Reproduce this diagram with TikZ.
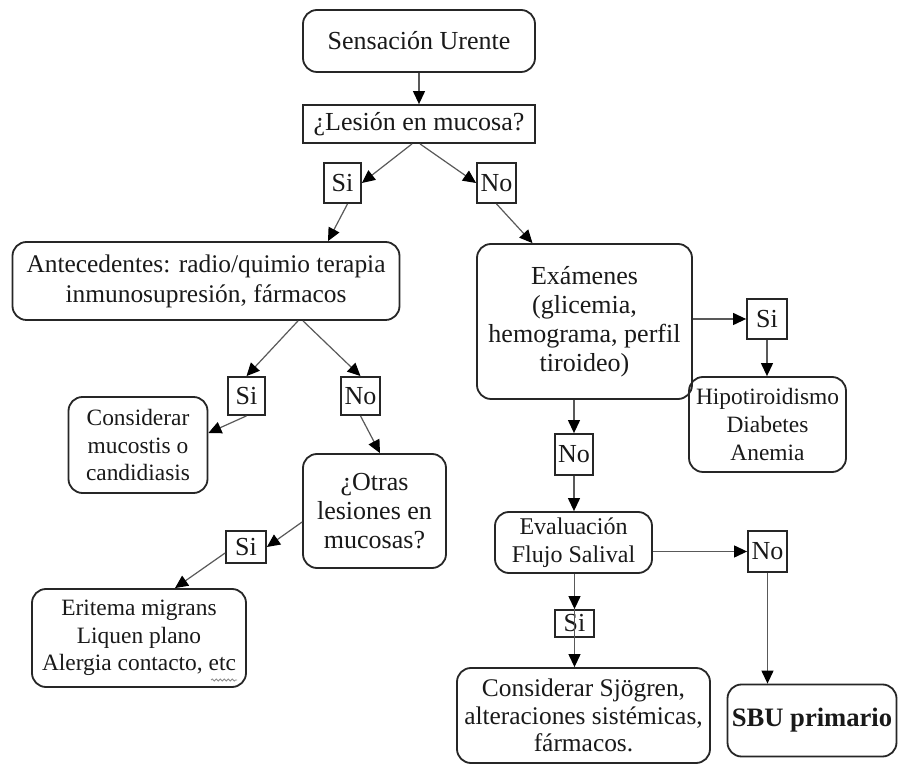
\documentclass[tikz,border=0pt]{standalone}
\usepackage{fontspec}
\setmainfont{Liberation Serif}
\usetikzlibrary{arrows.meta,calc,decorations.pathmorphing}
\begin{document}
\begin{tikzpicture}[x=0.5pt,y=-0.5pt,
  every node/.style={font=\fontsize{13}{14.5}\selectfont, text=black!90, inner sep=0pt, align=center},
  small/.style={font=\fontsize{11.7}{13.7}\selectfont},
  rbox/.style={draw=black!85, line width=0.9pt, rounded corners=7pt},
  sbox/.style={draw=black!85, line width=0.9pt},
  lbl/.style={draw=black!85, line width=0.9pt},
  arr/.style={draw=black!65, line width=0.6pt, -{Triangle[length=6.5pt,width=6pt,fill=black,color=black]}}]
\useasboundingbox (0,0) rectangle (901,764);
\fill[white] (0,0) rectangle (901,764);
% nodes
\node[rbox, minimum width=116pt, minimum height=31pt] (su) at (419,41) {Sensación Urente};
\node[sbox, minimum width=116pt, minimum height=19pt] (les) at (419,124) {¿Lesión en mucosa?};
\node[lbl, minimum width=18.5pt, minimum height=20pt] (si1) at (342.5,183) {Si};
\node[lbl, minimum width=19.5pt, minimum height=20pt] (no1) at (496.5,183) {No};
\node[rbox, minimum width=193.5pt, minimum height=39pt, font=\fontsize{12.7}{15}\selectfont] (ant) at (206,281) {Antecedentes: radio/quimio terapia\\inmunosupresión, fármacos};
\node[rbox, minimum width=107.5pt, minimum height=77.5pt] (exa) at (584.5,321.5) {Exámenes\\(glicemia,\\hemograma, perfil\\tiroideo)};
\node[lbl, minimum width=18.5pt, minimum height=19pt] (si2) at (246.5,396) {Si};
\node[lbl, minimum width=19.5pt, minimum height=19pt] (no2) at (360.5,396) {No};
\node[rbox, small, minimum width=69.5pt, minimum height=48pt] (cm) at (138,445) {Considerar\\mucostis o\\candidiasis};
\node[rbox, minimum width=71.5pt, minimum height=57pt] (otras) at (374.5,511) {¿Otras\\lesiones en\\mucosas?};
\node[lbl, minimum width=20pt, minimum height=16pt] (si3) at (246,547) {Si};
\node[rbox, small, minimum width=107pt, minimum height=49pt] (eri) at (139,638) {Eritema migrans\\Liquen plano\\Alergia contacto, etc};
\node[lbl, minimum width=20pt, minimum height=20pt] (si4) at (767,319) {Si};
\node[rbox, small, font=\fontsize{11.7}{14}\selectfont, minimum width=78.5pt, minimum height=47.5pt] (hipo) at (767.5,424.5) {Hipotiroidismo\\Diabetes\\Anemia};
\node[lbl, minimum width=19pt, minimum height=20.5pt] (no5) at (574,454.5) {No};
\node[rbox, font=\fontsize{12}{14}\selectfont, minimum width=78.5pt, minimum height=30.5pt] (eval) at (573.5,542.5) {Evaluación\\Flujo Salival};
\node[lbl, minimum width=19.5pt, minimum height=20.5pt] (no6) at (767.5,551.5) {No};
\node[rbox, minimum width=84.5pt, minimum height=36pt, font=\fontsize{13.3}{15}\selectfont\bfseries] (sbu) at (812,720.5) {SBU primario};
\node[lbl, minimum width=19.5pt, minimum height=13.5pt] (si7) at (574.5,623.5) {Si};
\node[rbox, font=\fontsize{12.7}{13.8}\selectfont, minimum width=126.5pt, minimum height=47.5pt] (cons) at (583.5,715.5) {Considerar Sjögren,\\alteraciones sistémicas,\\fármacos.};
% spelling underline under etc
\draw[black!45, line width=0.4pt, decorate, decoration={snake, amplitude=0.5pt, segment length=2pt}] (211,680) -- (237,680);
% connectors
\draw[arr] (su) -- (les);
\draw[arr] ([xshift=-3.5pt]les.south) -- (si1.east);
\draw[arr] ([xshift=0.5pt]les.south) -- (no1.west);
\draw[arr] ([xshift=2.5pt]si1.south) -- ([xshift=61pt]ant.north);
\draw[arr] (no1.south) -- ([xshift=-26pt]exa.north);
\draw[arr] ([xshift=46pt]ant.south) -- (si2.north);
\draw[arr] ([xshift=48.5pt]ant.south) -- (no2.north);
\draw[arr] (si2.south) -- ([yshift=6pt]cm.east);
\draw[arr] (no2.south) -- ([xshift=2.75pt]otras.north);
\draw[arr] ([yshift=-5.5pt]otras.west) -- (si3.east);
\draw[arr] ([yshift=-3pt]si3.west) -- ([xshift=18pt]eri.north);
\draw[arr] (exa.east |- si4.west) -- (si4.west);
\draw[arr] (si4.south) -- (si4.south |- hipo.north);
\draw[arr] (no5.north |- exa.south) -- (no5.north);
\draw[arr] (no5.south) -- (no5.south |- eval.north);
\draw[arr] (eval.east |- no6.west) -- (no6.west);
\draw[arr] (no6.south) -- (no6.south |- sbu.north);
\draw[arr] (si7.north |- eval.south) -- (si7.north);
\draw[arr] (si7.north) -- (si7.north |- cons.north);
\end{tikzpicture}
\end{document}
